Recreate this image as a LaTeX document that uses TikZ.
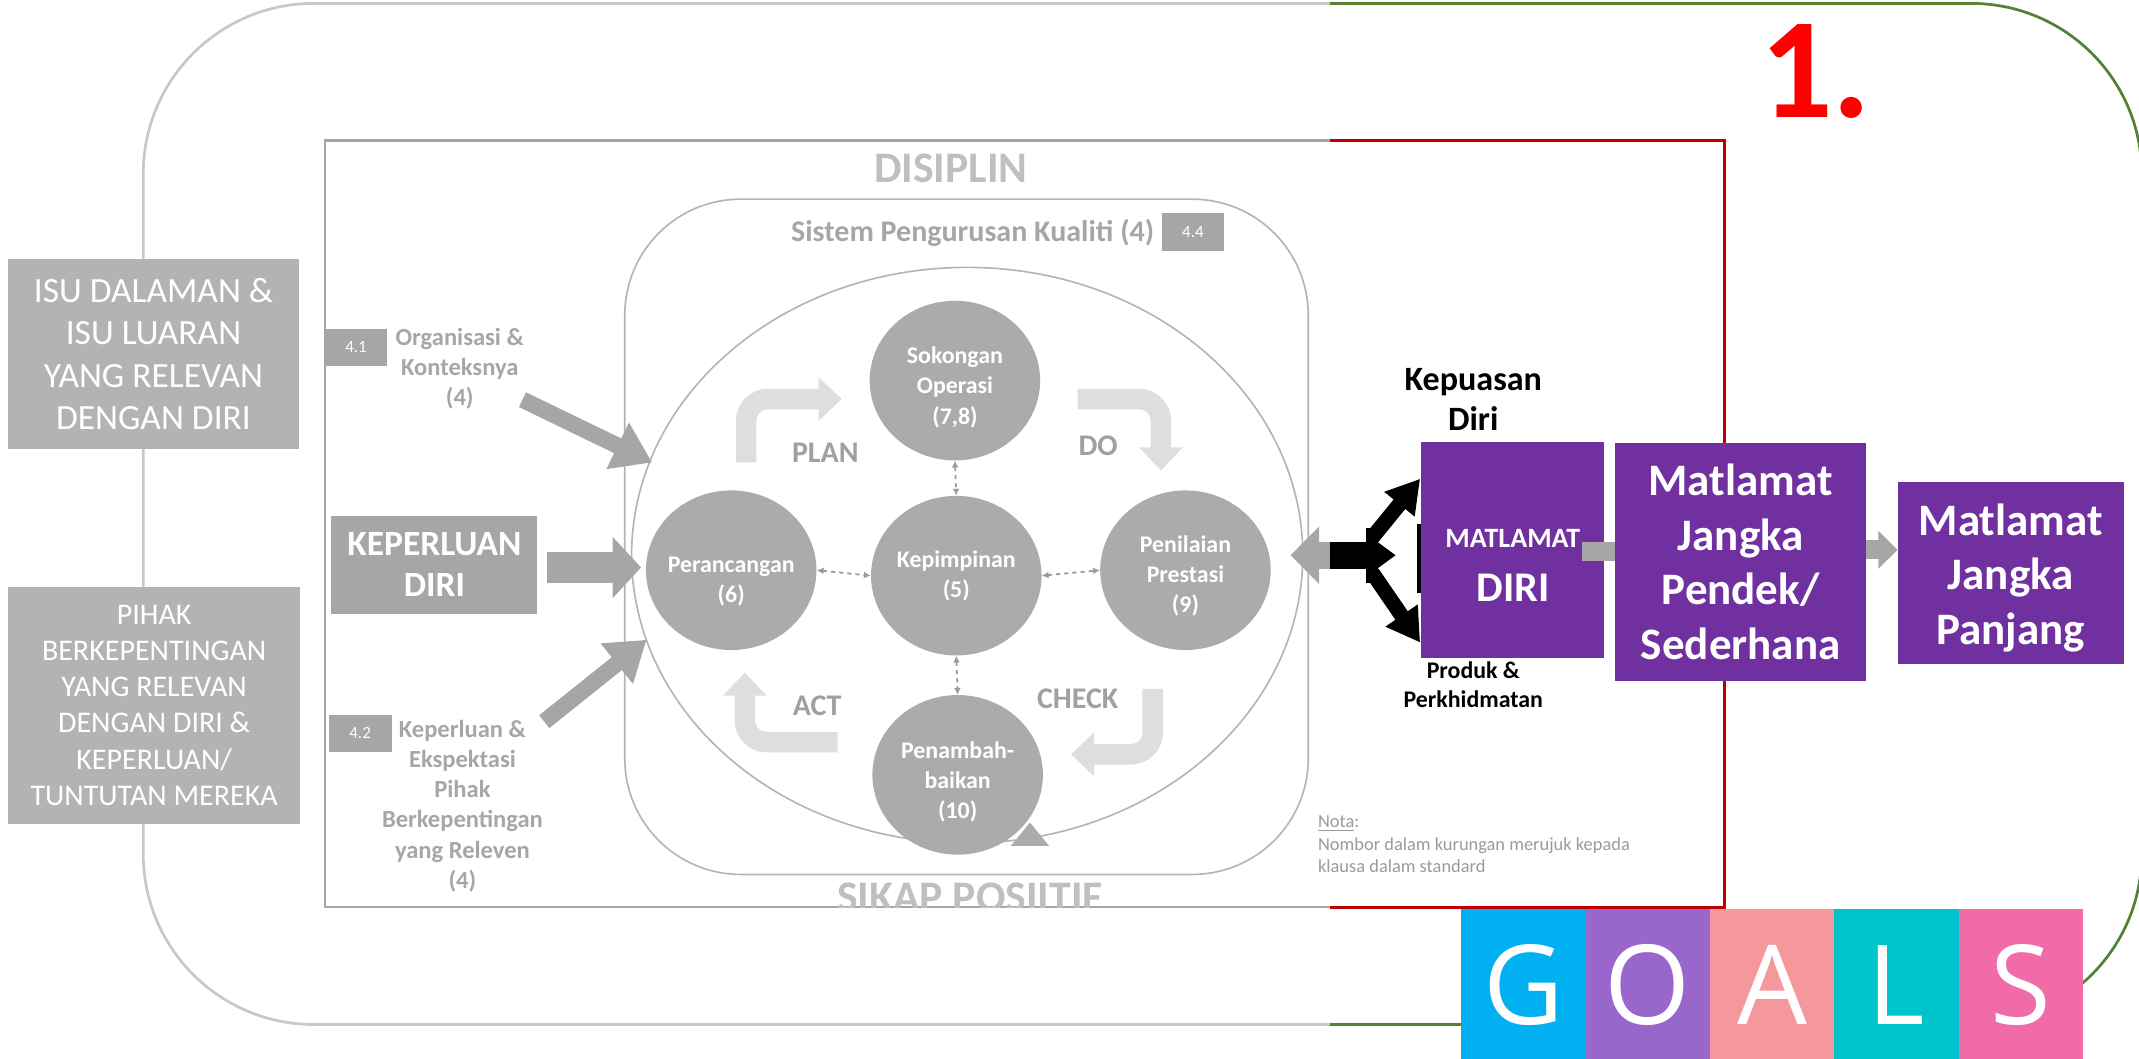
\documentclass[tikz,border=0pt]{standalone}
\usepackage{fontspec}
\setmainfont{Carlito}
\newfontfamily\goalsfont{Open Sans}
\usetikzlibrary{arrows.meta,shapes.geometric}
\newcommand\myfs[2]{\fontsize{#1}{#2}\selectfont}
\definecolor{outgray}{HTML}{C8C8C8}
\definecolor{ingray}{HTML}{A6A6A6}
\definecolor{contgray}{HTML}{B4B4B4}
\definecolor{grn}{HTML}{548235}
\definecolor{redline}{HTML}{C00000}
\definecolor{boxgray}{HTML}{B3B3B3}
\definecolor{midgray}{HTML}{A6A6A6}
\definecolor{circgray}{HTML}{ABABAB}
\definecolor{pdca}{HTML}{DEDEDE}
\definecolor{pdcatext}{HTML}{A0A0A0}
\definecolor{lightlab}{HTML}{BFBFBF}
\definecolor{dashgray}{HTML}{9A9A9A}
\definecolor{notegray}{HTML}{9A9A9A}
\definecolor{purp}{HTML}{7030A0}
\definecolor{gblue}{HTML}{00B0F0}
\definecolor{gpurp}{HTML}{9966CC}
\definecolor{gsalmon}{HTML}{F4989B}
\definecolor{gteal}{HTML}{00C4CC}
\definecolor{gpink}{HTML}{F06BA8}
\definecolor{redone}{HTML}{FF0000}
\begin{document}
\begin{tikzpicture}[x=1pt,y=-1pt,
  graybox/.style={rectangle, fill=boxgray, text=white, align=center, inner sep=0pt},
  keybox/.style={rectangle, fill=midgray, text=white, align=center, inner sep=0pt, font=\bfseries\myfs{26}{30}},
  numbox/.style={rectangle, fill=midgray, text=white, inner sep=0pt, font=\myfs{12.5}{14}},
  lab/.style={text=midgray, align=center, inner sep=0pt, font=\bfseries\myfs{18}{22}},
  circ/.style={ellipse, fill=circgray, minimum width=125pt, minimum height=117pt, inner sep=0pt},
  ctext/.style={text=white, align=center, inner sep=0pt, font=\bfseries\myfs{17.5}{22}},
  pdcaarrow/.style={draw=pdca, line width=15pt, rounded corners=16pt, -{Triangle[width=31pt,length=17pt]}},
  pdcalab/.style={text=pdcatext, font=\bfseries\myfs{22}{24}, inner sep=0pt},
  bigarrow/.style={draw=midgray, line width=12pt, -{Triangle[width=36pt,length=28pt]}},
  dasharrow/.style={draw=dashgray, dashed, line width=1.3pt, {Latex[length=5pt,width=5pt]}-{Latex[length=5pt,width=5pt]}},
  purpbox/.style={rectangle, fill=purp, text=white, align=center, inner sep=0pt},
  blacklab/.style={text=black, align=center, inner sep=0pt},
  blackarm/.style={draw=black, line width=11pt, -{Triangle[width=27pt,length=24pt]}},
  goal/.style={text=white, font=\goalsfont\myfs{81}{81}, anchor=base, inner sep=0pt},
]
\useasboundingbox (0,0) rectangle (1568,775.6);

% ---------- outer and inner frames ----------
\begin{scope}
\clip (0,-5) rectangle (975,790);
\draw[draw=outgray, line width=2pt, rounded corners=125pt] (105,2.5) rectangle (1570,751);
\draw[draw=ingray, line width=1.5pt] (238,103) rectangle (1264,665);
\end{scope}
\begin{scope}
\clip (975,-5) rectangle (1600,790);
\draw[draw=grn, line width=2pt, rounded corners=125pt] (105,2.5) rectangle (1570,751);
\draw[draw=redline, line width=2pt] (238,103) rectangle (1264,665);
\end{scope}

% ---------- left boxes ----------
\node[graybox, minimum width=213pt, minimum height=139pt, font=\myfs{26}{31}] (isu) at (112.5,259.5)
  {ISU DALAMAN \&\\ISU LUARAN\\YANG RELEVAN\\DENGAN DIRI};
\node[graybox, minimum width=214pt, minimum height=174pt, font=\myfs{22}{26.6}] (pihak) at (113,517)
  {PIHAK\\BERKEPENTINGAN\\YANG RELEVAN\\DENGAN DIRI \&\\KEPERLUAN/\\TUNTUTAN MEREKA};

% ---------- titles ----------
\node[text=lightlab, font=\bfseries\myfs{32}{34}, anchor=base, inner sep=0pt] (disiplin) at (697,134) {DISIPLIN};
\begin{scope}
\clip (238,103) rectangle (1264,665);
\node[text=lightlab, font=\bfseries\myfs{32}{34}, anchor=base, inner sep=0pt] (sikap) at (711,668.5) {SIKAP POSIITIF};
\end{scope}

% ---------- quality system container ----------
\node[draw=contgray, line width=1.2pt, rounded corners=85pt, minimum width=501pt, minimum height=495pt, inner sep=0pt] (qms) at (708.5,393.5) {};
\node[text=midgray, font=\bfseries\myfs{22}{24}, inner sep=0pt] (qmst) at (713,171) {Sistem Pengurusan Kualiti (4)};
\node[numbox, minimum width=45pt, minimum height=28pt] (n44) at (874.5,170) {4.4};
\node[draw=contgray, line width=1.2pt, ellipse, minimum width=492pt, minimum height=422pt, inner sep=0pt] (pdcaell) at (709,407) {};

% ---------- left labels and inputs ----------
\node[numbox, minimum width=46pt, minimum height=27pt] (n41) at (261,254.5) {4.1};
\node[lab] (org) at (337,270) {Organisasi \&\\Konteksnya\\(4)};
\node[keybox, minimum width=151pt, minimum height=72pt] (kd) at (318.5,414) {KEPERLUAN\\DIRI};
\node[numbox, minimum width=46pt, minimum height=27pt] (n42) at (264,537.5) {4.2};
\node[lab] (kep) at (339,591) {Keperluan \&\\Ekspektasi\\Pihak\\Berkepentingan\\yang Releven\\(4)};

\coordinate (a1s) at (383,293);
\coordinate (a1e) at (478,339);
\coordinate (a3s) at (399,529);
\coordinate (a3e) at (474,469);
\coordinate (a2s) at (401,416);
\coordinate (a2e) at (470,416);
\draw[bigarrow] (a1s) -- (a1e);
\draw[bigarrow] (a3s) -- (a3e);
\draw[draw=midgray, line width=22pt, -{Triangle[width=44pt,length=21pt]}] (a2s) -- (a2e);

% ---------- PDCA circles ----------
\node[circ] (so) at (700,279) {};
\node[circ] (pr) at (536,418) {};
\node[circ] (kp) at (701,422) {};
\node[circ] (pe) at (869,418) {};
\node[circ] (pn) at (702,568) {};
\node[ctext] (sot) at (700,284) {Sokongan\\Operasi\\(7,8)};
\node[ctext] (prt) at (536,426) {Perancangan\\(6)};
\node[ctext] (kpt) at (701,422) {Kepimpinan\\(5)};
\node[ctext] (pet) at (869,422) {Penilaian\\Prestasi\\(9)};
\node[ctext] (pnt) at (702,573) {Penambah-\\baikan\\(10)};
\fill[circgray] (741,620) -- (755,603) -- (769,620) -- cycle;

\draw[dasharrow] (pr.east) -- (kp.west);
\draw[dasharrow] (kp.east) -- (pe.west);
\draw[dasharrow] (so.south) -- (kp.north);
\draw[dasharrow] (kp.south) -- (pn.north);

% ---------- PDCA arrows ----------
\draw[pdcaarrow] (547,339) |- (617,292.5);
\draw[pdcaarrow] (790,292.5) -| (851,345);
\draw[pdcaarrow] (845,505) |- (785,553);
\draw[pdcaarrow] (614,544) -| (546,493);
\node[pdcalab] (plan) at (605,332) {PLAN};
\node[pdcalab] (do) at (805,327) {DO};
\node[pdcalab] (check) at (790,512) {CHECK};
\node[pdcalab] (act) at (599,517) {ACT};

% ---------- right side ----------
\node[blacklab, font=\bfseries\myfs{25}{29}] (kepuasan) at (1080,293) {Kepuasan\\Diri};
\node[blacklab, font=\bfseries\myfs{17.5}{21}] (produk) at (1080,502) {Produk \&\\Perkhidmatan};

\coordinate (fkL) at (946,407);
\coordinate (fkS) at (977,407);
\draw[draw=midgray, line width=20pt, -{Triangle[width=41pt,length=21pt]}] (fkS) -- (fkL);
\fill[black] (975,397) rectangle (1008,417);
\fill[black] (1001,387) rectangle (1010,427);
\fill[black] (1008,396) -- (1023,407) -- (1008,418) -- cycle;
\coordinate (armU) at (1041,351);
\coordinate (armD) at (1041,471);
\coordinate (armUs) at (1006,394);
\coordinate (armDs) at (1006,420);
\draw[blackarm] (armUs) -- (armU);
\draw[blackarm] (armDs) -- (armD);
\fill[black] (1039,384) rectangle (1043,435);

\node[purpbox, minimum width=134pt, minimum height=158pt] (md) at (1109,403) {};
\node[text=white, font=\bfseries\myfs{20.5}{24}, inner sep=0pt] (mdt1) at (1109,395) {MATLAMAT};
\node[text=white, font=\bfseries\myfs{31}{34}, inner sep=0pt] (mdt2) at (1109,431) {DIRI};

\node[purpbox, minimum width=184pt, minimum height=174pt, font=\bfseries\myfs{33}{40}] (mp) at (1276,412)
  {Matlamat\\Jangka\\Pendek/\\Sederhana};
\node[purpbox, minimum width=166pt, minimum height=134pt] (mj) at (1474,420) {};
\node[text=white, align=center, inner sep=0pt, font=\bfseries\myfs{33}{40}] (mjt) at (1474,423.5) {Matlamat\\Jangka\\Panjang};

\coordinate (c1) at (1160,404);
\coordinate (c2) at (1184,404);
\draw[draw=midgray, line width=14pt] (c1) -- (c2);
\coordinate (g1) at (1368,403);
\coordinate (g2) at (1391,403);
\draw[draw=midgray, line width=14pt, -{Triangle[width=27pt,length=14pt]}] (g1) -- (g2);

% ---------- note ----------
\node[anchor=north west, align=left, inner sep=0pt, text=notegray, font=\myfs{13.5}{16.5}] (nota) at (966,598)
  {\underline{Nota}:\\Nombor dalam kurungan merujuk kepada\\klausa dalam standard};

% ---------- big number ----------
\node[text=redone, font=\bfseries\myfs{105}{105}, anchor=base, inner sep=0pt] (one) at (1331,86) {1.};

% ---------- GOALS ----------
\foreach \i/\c/\l in {0/gblue/G,1/gpurp/O,2/gsalmon/A,3/gteal/L,4/gpink/S} {
  \fill[\c] ({1071+91.2*\i},666) rectangle ({1071+91.2*(\i+1)},780);
  \node[goal] (g\i) at ({1071+91.2*\i+45.6},751) {\l};
}
\end{tikzpicture}
\end{document}
